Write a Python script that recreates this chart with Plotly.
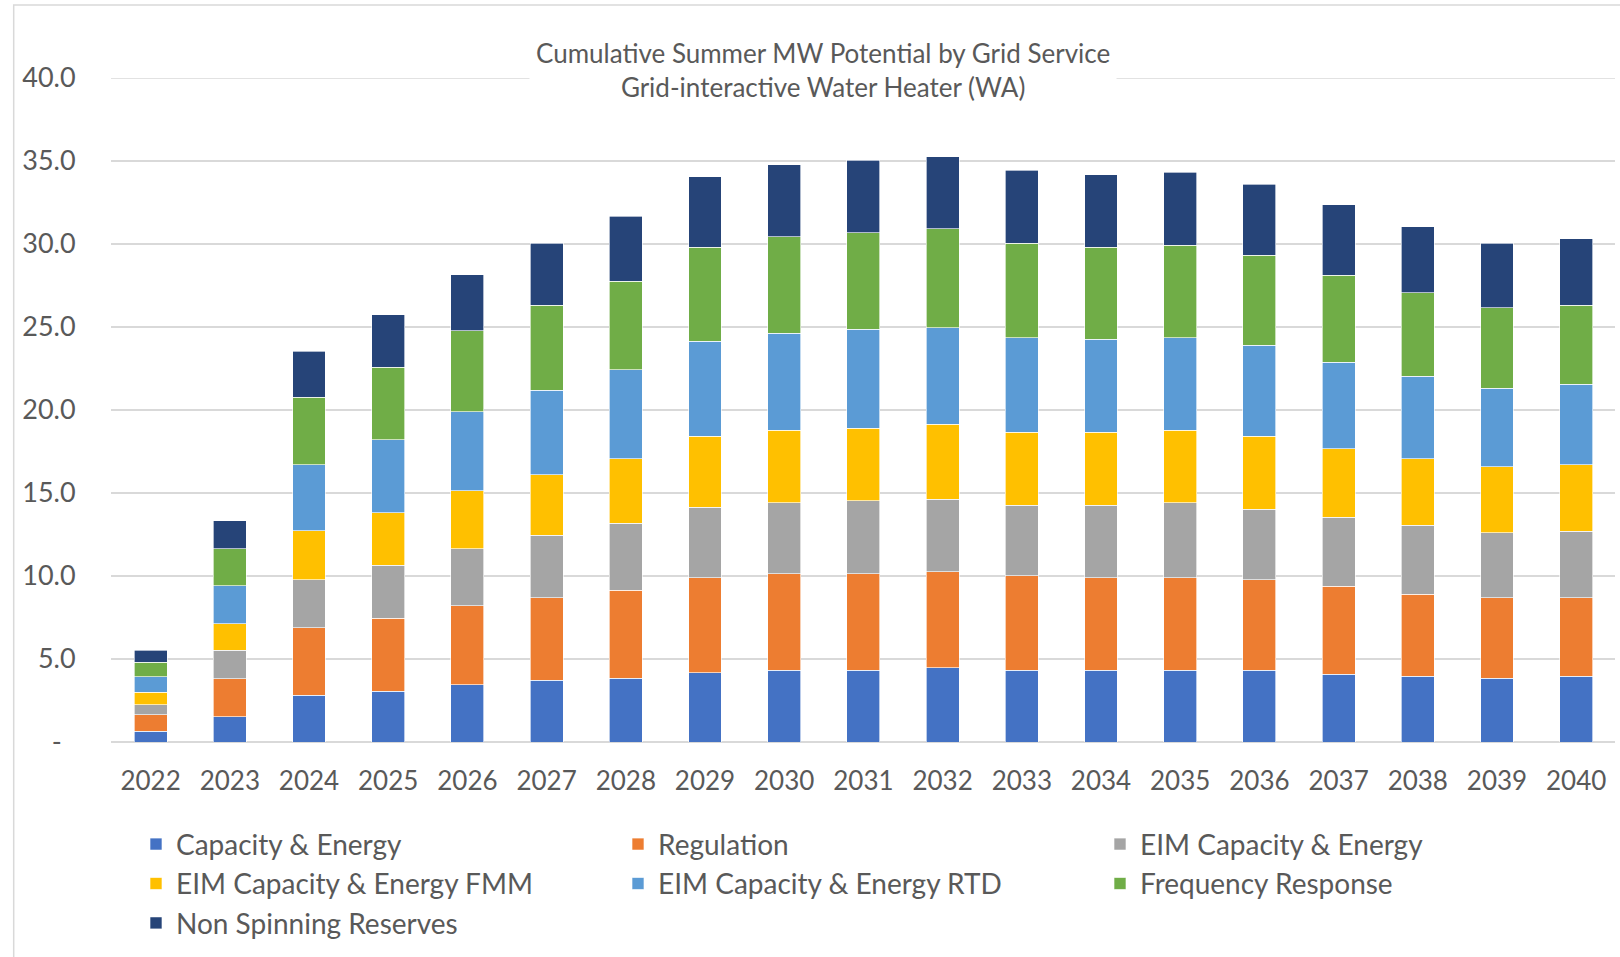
import plotly.graph_objects as go

years = [str(y) for y in range(2022, 2041)]

capacity_energy = [0.66, 1.53, 2.83, 3.07, 3.45, 3.71, 3.83, 4.18, 4.33, 4.33, 4.47, 4.33, 4.33, 4.33, 4.33, 4.09, 3.95, 3.83, 3.95]
regulation = [0.97, 2.29, 4.04, 4.40, 4.76, 4.97, 5.32, 5.71, 5.80, 5.80, 5.80, 5.70, 5.56, 5.56, 5.44, 5.30, 4.96, 4.85, 4.73]
eim_capacity_energy = [0.60, 1.70, 2.91, 3.19, 3.42, 3.78, 4.04, 4.25, 4.27, 4.39, 4.35, 4.23, 4.37, 4.51, 4.25, 4.16, 4.16, 3.92, 4.01]
eim_fmm = [0.76, 1.61, 2.95, 3.16, 3.51, 3.63, 3.88, 4.28, 4.38, 4.38, 4.51, 4.40, 4.40, 4.38, 4.40, 4.13, 4.00, 3.99, 4.02]
eim_rtd = [0.95, 2.29, 3.98, 4.39, 4.75, 5.09, 5.34, 5.71, 5.85, 5.96, 5.83, 5.70, 5.59, 5.58, 5.47, 5.19, 4.96, 4.73, 4.85]
frequency_response = [0.86, 2.21, 4.05, 4.36, 4.87, 5.13, 5.35, 5.68, 5.80, 5.83, 5.96, 5.69, 5.56, 5.58, 5.44, 5.25, 5.02, 4.85, 4.75]
non_spinning = [0.74, 1.70, 2.78, 3.17, 3.38, 3.74, 3.90, 4.25, 4.35, 4.37, 4.35, 4.39, 4.37, 4.38, 4.26, 4.25, 3.99, 3.88, 4.00]

series_names = ["Capacity & Energy", "Regulation", "EIM Capacity & Energy",
                "EIM Capacity & Energy FMM", "EIM Capacity & Energy RTD",
                "Frequency Response", "Non Spinning Reserves"]
series_values = [capacity_energy, regulation, eim_capacity_energy, eim_fmm,
                 eim_rtd, frequency_response, non_spinning]
colors = ["#4472C4", "#ED7D31", "#A5A5A5", "#FFC000", "#5B9BD5", "#70AD47", "#264478"]

y_ticks = [0, 5, 10, 15, 20, 25, 30, 35, 40]
y_ticktext = ["-\u00a0\u00a0", "5.0", "10.0", "15.0", "20.0", "25.0", "30.0", "35.0", "40.0"]

title_lines = ["Cumulative Summer MW Potential by Grid Service",
               "Grid-interactive Water Heater (WA)"]

FONT = "Lato"
TXT = "#595959"

fig = go.Figure()
for name, vals, col in zip(series_names, series_values, colors):
    fig.add_trace(go.Bar(
        x=years, y=vals, name=name,
        marker=dict(color=col, line=dict(color="rgba(255,255,255,0.8)", width=0.8)),
    ))

W, H = 1620, 957
L, R, T, B = 111, 5, 77.5, 214.5
pw = W - L - R
ph = H - T - B

def px(xp):
    return (xp - L) / pw

def py(yp):
    return (H - B - yp) / ph

fig.update_layout(
    width=W, height=H,
    barmode="stack",
    bargap=0.585,
    plot_bgcolor="white",
    paper_bgcolor="white",
    margin=dict(l=L, r=R, t=T, b=B, pad=0),
    font=dict(family=FONT, color=TXT, size=26),
    showlegend=True,
    legend=dict(
        orientation="h",
        x=px(136), y=py(820), xanchor="left", yanchor="top",
        traceorder="normal",
        entrywidth=437, entrywidthmode="pixels",
        font=dict(family=FONT, size=28, color=TXT),
        bgcolor="rgba(0,0,0,0)",
    ),
    xaxis=dict(
        type="category",
        range=[-0.5, 18.49],
        showgrid=False,
        showline=False,
        ticks="outside", ticklen=16, tickcolor="rgba(0,0,0,0)",
        tickfont=dict(family=FONT, size=26, color=TXT),
        fixedrange=True,
    ),
    yaxis=dict(
        range=[0, 40],
        tickvals=y_ticks, ticktext=y_ticktext,
        showgrid=True, gridcolor="#D9D9D9", gridwidth=1.5,
        zeroline=True, zerolinecolor="#D9D9D9", zerolinewidth=1.5,
        showline=False,
        ticks="outside", ticklen=29, tickcolor="rgba(0,0,0,0)",
        tickfont=dict(family=FONT, size=27, color=TXT),
        fixedrange=True,
    ),
    shapes=[
        dict(
            type="rect", xref="paper", yref="paper",
            x0=px(13.7), x1=px(W + 20), y0=py(H + 20), y1=py(4.5),
            line=dict(color="#D9D9D9", width=1.5), fillcolor="rgba(0,0,0,0)",
            layer="below",
        ),
        dict(
            type="line", xref="paper", yref="y",
            x0=0, x1=1, y0=40, y1=40,
            line=dict(color="#D9D9D9", width=1.5),
            layer="below",
        ),
    ],
    annotations=[dict(
        text="<br>".join(title_lines),
        xref="paper", yref="paper",
        x=px(822.6), y=py(69.5), xanchor="center", yanchor="middle",
        showarrow=False, align="center",
        bgcolor="white", borderpad=6,
        font=dict(family=FONT, size=26, color=TXT),
    )],
)

fig.write_html("out.html", config={"displayModeBar": False},
               post_script="document.body.style.margin='0';")
